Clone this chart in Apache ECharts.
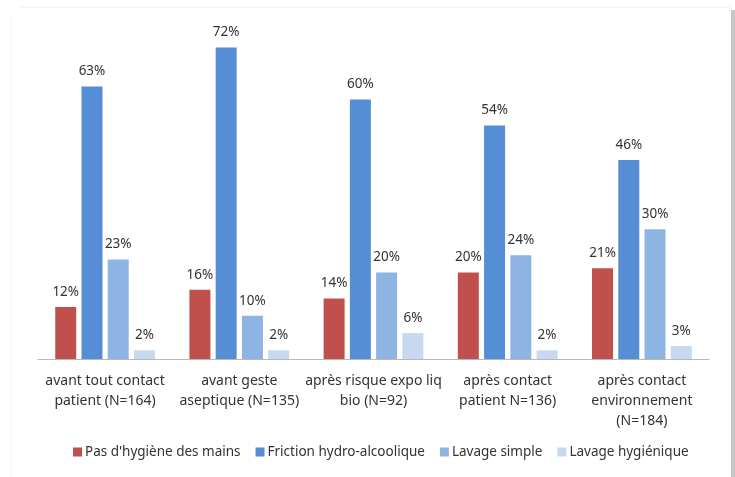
<!DOCTYPE html>
<html>
<head>
<meta charset="utf-8">
<script src="https://cdn.jsdelivr.net/npm/echarts@6/dist/echarts.min.js"></script>
<style>
  html, body { margin: 0; padding: 0; background: #fff; }
  #chart { width: 735px; height: 477px; }
</style>
</head>
<body>
<div id="chart"></div>
<script>
const categories = [
  'avant tout contact\npatient (N=164)',
  'avant geste\naseptique (N=135)',
  'après risque expo liq\nbio (N=92)',
  'après contact\npatient N=136)',
  'après contact\nenvironnement\n(N=184)',
]
const seriesNames = ["Pas d'hygiène des mains", 'Friction hydro-alcoolique', 'Lavage simple', 'Lavage hygiénique']
const pasHygiene = [12, 16, 14, 20, 21]
const friction = [63, 72, 60, 54, 46]
const lavageSimple = [23, 10, 20, 24, 30]
const lavageHygienique = [2, 2, 6, 2, 3]
const colors = ['#C0504D', '#558ED5', '#8EB4E3', '#C6D9F1']

const FONT = 'Noto Sans'
const TEXT = '#333'

const chart = echarts.init(document.getElementById('chart'))

const makeSeries = (name, data, i) => ({
  name,
  type: 'bar',
  data,
  barWidth: 21,
  barGap: '25%',
  itemStyle: { color: colors[i] },
  label: {
    show: true,
    position: 'top',
    distance: 8,
    formatter: '{c}%',
    color: TEXT,
    fontFamily: FONT,
    fontSize: 13.5,
  },
})

chart.setOption({
  animation: false,
  textStyle: { fontFamily: FONT },
  grid: { left: 38, right: 26, top: 13, bottom: 118 },
  legend: {
    bottom: 13,
    left: 68,
    itemWidth: 9,
    itemHeight: 9,
    itemGap: 15,
    icon: 'rect',
    textStyle: { color: TEXT, fontFamily: FONT, fontSize: 13.5, padding: [0, 0, 0, -2] },
  },
  xAxis: {
    type: 'category',
    data: categories,
    axisLine: { lineStyle: { color: '#b8b8b8', width: 1 } },
    axisTick: { show: false },
    axisLabel: {
      color: TEXT,
      fontFamily: FONT,
      fontSize: 14,
      lineHeight: 20,
      margin: 12,
      interval: 0,
    },
  },
  yAxis: {
    type: 'value',
    min: 0,
    max: 80,
    show: false,
  },
  graphic: [
    { type: 'rect', shape: { x: 731, y: 10, width: 4, height: 467 }, style: { fill: '#c6c6c6' } },
    { type: 'line', shape: { x1: 20, y1: 7, x2: 731, y2: 7 }, style: { stroke: '#f2f2f2', lineWidth: 1 } },
    { type: 'line', shape: { x1: 11, y1: 16, x2: 11, y2: 477 }, style: { stroke: '#f4f4f4', lineWidth: 1 } },
  ],
  series: [
    makeSeries(seriesNames[0], pasHygiene, 0),
    makeSeries(seriesNames[1], friction, 1),
    makeSeries(seriesNames[2], lavageSimple, 2),
    makeSeries(seriesNames[3], lavageHygienique, 3),
  ],
})
</script>
</body>
</html>
